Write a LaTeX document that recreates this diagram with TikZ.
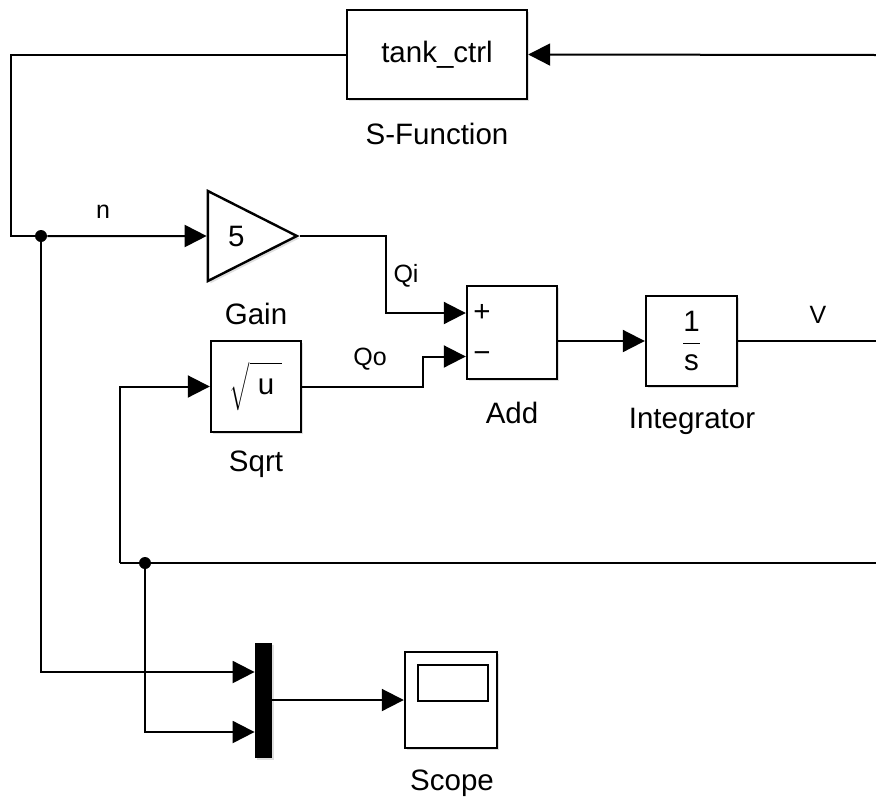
\documentclass[tikz,border=0pt]{standalone}
\usepackage{fontspec}
\setmainfont{Liberation Sans}
\usepackage{tikz}
\usetikzlibrary{shapes.geometric, arrows.meta, shadows}
\newcommand{\blkfont}{\fontsize{14.75pt}{17pt}\selectfont}
\newcommand{\sigfont}{\fontsize{12.5pt}{15pt}\selectfont}
\tikzset{
	% simulink block styles
	blk/.style    ={rectangle, draw=black, line width=1.2pt, fill=white, inner sep=0pt, font=\blkfont, drop shadow={shadow xshift=1.2pt, shadow yshift=-1.2pt, opacity=0.25}},
	gainblk/.style={isosceles triangle, isosceles triangle stretches, shape border rotate=0, minimum width=45pt, minimum height=44.5pt, draw=black, line width=1.2pt, fill=white, inner sep=0pt, font=\blkfont, drop shadow={shadow xshift=1.2pt, shadow yshift=-1.2pt, opacity=0.25}},
	muxbar/.style ={rectangle, fill=black, minimum width=8.5pt, minimum height=57.5pt, inner sep=0pt, drop shadow={shadow xshift=1.2pt, shadow yshift=-1.2pt, opacity=0.25}},
	blkname/.style={inner sep=0pt, font=\blkfont},
	signame/.style={inner sep=0pt, font=\sigfont},
	dotj/.style   ={circle, fill=black, minimum size=6pt, inner sep=0pt},
	wire/.style   ={line width=1pt},
	sig/.style    ={-{Triangle[length=11pt, width=11pt]}, line width=1pt},
}
\begin{document}
\begin{tikzpicture}[x=0.5pt, y=-0.5pt]
	\useasboundingbox (0,0) rectangle (876,798);
	% blocks
	\node[blk, minimum width=90pt, minimum height=44.5pt] (ctrl) at (437,54.5) {tank\_ctrl};
	\node[gainblk, anchor=apex] (gain) at (300,236) {\hspace{3pt}5};
	\node[blk, minimum width=45pt, minimum height=45.5pt] (sqrtb) at (256,386.5) {\(\sqrt{\rule[-7.5pt]{0pt}{22pt}\hspace{4pt}\hbox{u}\hspace{4pt}}\)};
	\node[blk, minimum width=45pt, minimum height=46.5pt] (add) at (512,332.5) {};
	\node[blk, minimum width=45.5pt, minimum height=45pt] (integ) at (691.5,341) {\(\displaystyle\frac{\hbox{1}}{\hbox{s}}\)};
	\node[muxbar] (mux) at (263.5,700.5) {};
	\node[blk, minimum width=46pt, minimum height=48pt] (scope) at (451,700) {};
	\draw[line width=1.1pt] ([xshift=7pt, yshift=-7pt]scope.north west) rectangle ([xshift=-5pt, yshift=-25pt]scope.north east);
	% block names
	\node[blkname] (ctrl-lbl) at (437,134) {S-Function};
	\node[blkname] (gain-lbl) at (256,314) {Gain};
	\node[blkname] (sqrt-lbl) at (256,464) {Sqrt};
	\node[blkname] (add-lbl) at (512,413) {Add};
	\node[blkname] (integ-lbl) at (692,421.5) {Integrator};
	\node[blkname] (scope-lbl) at (452,783.5) {Scope};
	\node[blkname] (plus) at (482,313) {+};
	\node[blkname] (minus) at (482,357) {−};
	% branch points and free ends
	\node[dotj] (nj) at (41,236) {};
	\node[dotj] (vj) at (145,563) {};
	\coordinate (vin) at (876,55);
	\coordinate (nbend) at (11,236);
	\coordinate (vout) at (876,341);
	\coordinate (vfb) at (876,563);
	\coordinate (fbbend) at (120,563);
	\coordinate (addin1) at ([yshift=9.75pt]add.west);
	\coordinate (addin2) at ([yshift=-12pt]add.west);
	\coordinate (muxin1) at ([yshift=14.25pt]mux.west);
	\coordinate (muxin2) at ([yshift=-15.75pt]mux.west);
	% signals
	\draw[sig] (vin) -- (ctrl.east);
	\draw[wire] (ctrl.west) -| (nbend) -- (nj);
	\draw[sig] (nj) -- (gain.west);
	\draw[sig] (nj) |- (muxin1);
	\draw[sig] (gain.apex) -- ++(86,0) |- (addin1);
	\draw[sig] (sqrtb.east) -- ++(121,0) |- (addin2);
	\draw[sig] (add.east |- integ.west) -- (integ.west);
	\draw[wire] (integ.east) -- (vout);
	\draw[wire] (vfb) -- (fbbend);
	\draw[sig] (fbbend) |- (sqrtb.west);
	\draw[sig] (vj) |- (muxin2);
	\draw[sig] (mux.east |- scope.west) -- (scope.west);
	% signal names
	\node[signame] (n-lbl) at (103,212) {n};
	\node[signame] (qi-lbl) at (406,276) {Qi};
	\node[signame] (qo-lbl) at (370,359) {Qo};
	\node[signame] (v-lbl) at (818,315) {V};
\end{tikzpicture}
\end{document}
